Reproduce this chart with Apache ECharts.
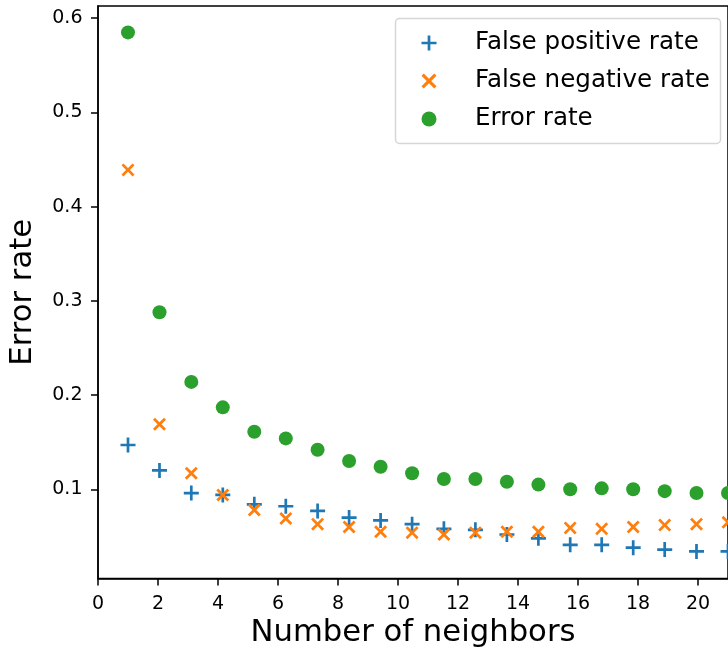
<!DOCTYPE html>
<html>
<head>
<meta charset="utf-8">
<script src="https://cdn.jsdelivr.net/npm/echarts@6/dist/echarts.min.js"></script>
<style>
html, body { margin: 0; padding: 0; background: #fff; }
#chart { width: 728px; height: 654px; }
</style>
</head>
<body>
<div id="chart"></div>
<script>
// number of neighbors (x positions of the points)
var neighbors = [1, 2.05, 3.11, 4.16, 5.21, 6.26, 7.32, 8.37, 9.42, 10.47,
                 11.53, 12.58, 13.63, 14.68, 15.74, 16.79, 17.84, 18.89, 19.95, 21];
var falsePositive = [0.147, 0.120, 0.096, 0.094, 0.084, 0.082, 0.077, 0.070, 0.067, 0.063,
                     0.058, 0.057, 0.052, 0.048, 0.041, 0.041, 0.038, 0.036, 0.034, 0.034];
var falseNegative = [0.439, 0.169, 0.117, 0.094, 0.078, 0.069, 0.063, 0.060, 0.055, 0.054,
                     0.052, 0.054, 0.055, 0.055, 0.059, 0.058, 0.060, 0.062, 0.063, 0.065];
var errorRate = [0.585, 0.288, 0.214, 0.187, 0.161, 0.154, 0.142, 0.130, 0.124, 0.117,
                 0.111, 0.111, 0.108, 0.105, 0.100, 0.101, 0.100, 0.098, 0.096, 0.096];
var xTicks = [0, 2, 4, 6, 8, 10, 12, 14, 16, 18, 20];
var yTicks = [0.1, 0.2, 0.3, 0.4, 0.5, 0.6];
var seriesNames = ['False positive rate', 'False negative rate', 'Error rate'];

var font = 'DejaVu Sans';
// marker shapes like matplotlib '+' and 'x'
var plusPath = 'path://M4.1,0H5.9V4.1H10V5.9H5.9V10H4.1V5.9H0V4.1H4.1Z';
var crossPath = 'path://M1.5,0L5,3.5L8.5,0L10,1.5L6.5,5L10,8.5L8.5,10L5,6.5L1.5,10L0,8.5L3.5,5L0,1.5Z';

function pairs(ys) {
    return ys.map(function (v, i) { return [neighbors[i], v]; });
}

var chart = echarts.init(document.getElementById('chart'));

var option = {
    animation: false,
    textStyle: { fontFamily: font },
    grid: {
        left: 97.5,
        right: -5,
        top: 6,
        bottom: 72.5,
        show: true,
        borderColor: '#000',
        borderWidth: 1.5,
        backgroundColor: 'transparent'
    },
    graphic: [{
        type: 'rect',
        z: 10,
        shape: { x: 395.5, y: 18.5, width: 325, height: 125, r: 4 },
        style: { fill: 'rgba(255,255,255,0.8)', stroke: '#d6d6d6', lineWidth: 1.5 }
    }],
    legend: {
        z: 20,
        orient: 'vertical',
        left: 421.5,
        top: 29,
        padding: 0,
        itemWidth: 82,
        itemHeight: 15,
        itemGap: 10,
        data: [
            { name: seriesNames[0], icon: plusPath },
            { name: seriesNames[1], icon: crossPath },
            { name: seriesNames[2], icon: 'circle' }
        ],
        textStyle: { fontFamily: font, fontSize: 24.6, color: '#000', lineHeight: 28 }
    },
    xAxis: {
        type: 'value',
        min: 0,
        max: 21,
        name: 'Number of neighbors',
        nameLocation: 'middle',
        nameGap: 38,
        nameTextStyle: { fontFamily: font, fontSize: 30.7, color: '#000' },
        axisLine: { lineStyle: { color: '#000', width: 1.5 } },
        axisTick: { show: true, length: 7, lineStyle: { color: '#000', width: 1.5 }, customValues: xTicks },
        axisLabel: { fontFamily: font, fontSize: 19, color: '#000', margin: 15.5, customValues: xTicks },
        splitLine: { show: false }
    },
    yAxis: {
        type: 'value',
        min: 0.0052,
        max: 0.613,
        name: 'Error rate',
        nameLocation: 'middle',
        nameGap: 59,
        nameTextStyle: { fontFamily: font, fontSize: 30.7, color: '#000' },
        axisLine: { show: true, lineStyle: { color: '#000', width: 1.5 } },
        axisTick: { show: true, length: 7, lineStyle: { color: '#000', width: 1.5 }, customValues: yTicks },
        axisLabel: { fontFamily: font, fontSize: 19, color: '#000', margin: 15.5, customValues: yTicks },
        splitLine: { show: false }
    },
    series: [
        {
            name: seriesNames[0],
            type: 'scatter',
            symbol: plusPath,
            symbolSize: 15,
            itemStyle: { color: '#1f77b4', opacity: 1 },
            data: pairs(falsePositive)
        },
        {
            name: seriesNames[1],
            type: 'scatter',
            symbol: crossPath,
            symbolSize: 13,
            itemStyle: { color: '#ff7f0e', opacity: 1 },
            data: pairs(falseNegative)
        },
        {
            name: seriesNames[2],
            type: 'scatter',
            symbol: 'circle',
            symbolSize: 14,
            itemStyle: { color: '#2ca02c', opacity: 1 },
            data: pairs(errorRate)
        }
    ]
};

chart.setOption(option);
</script>
</body>
</html>
